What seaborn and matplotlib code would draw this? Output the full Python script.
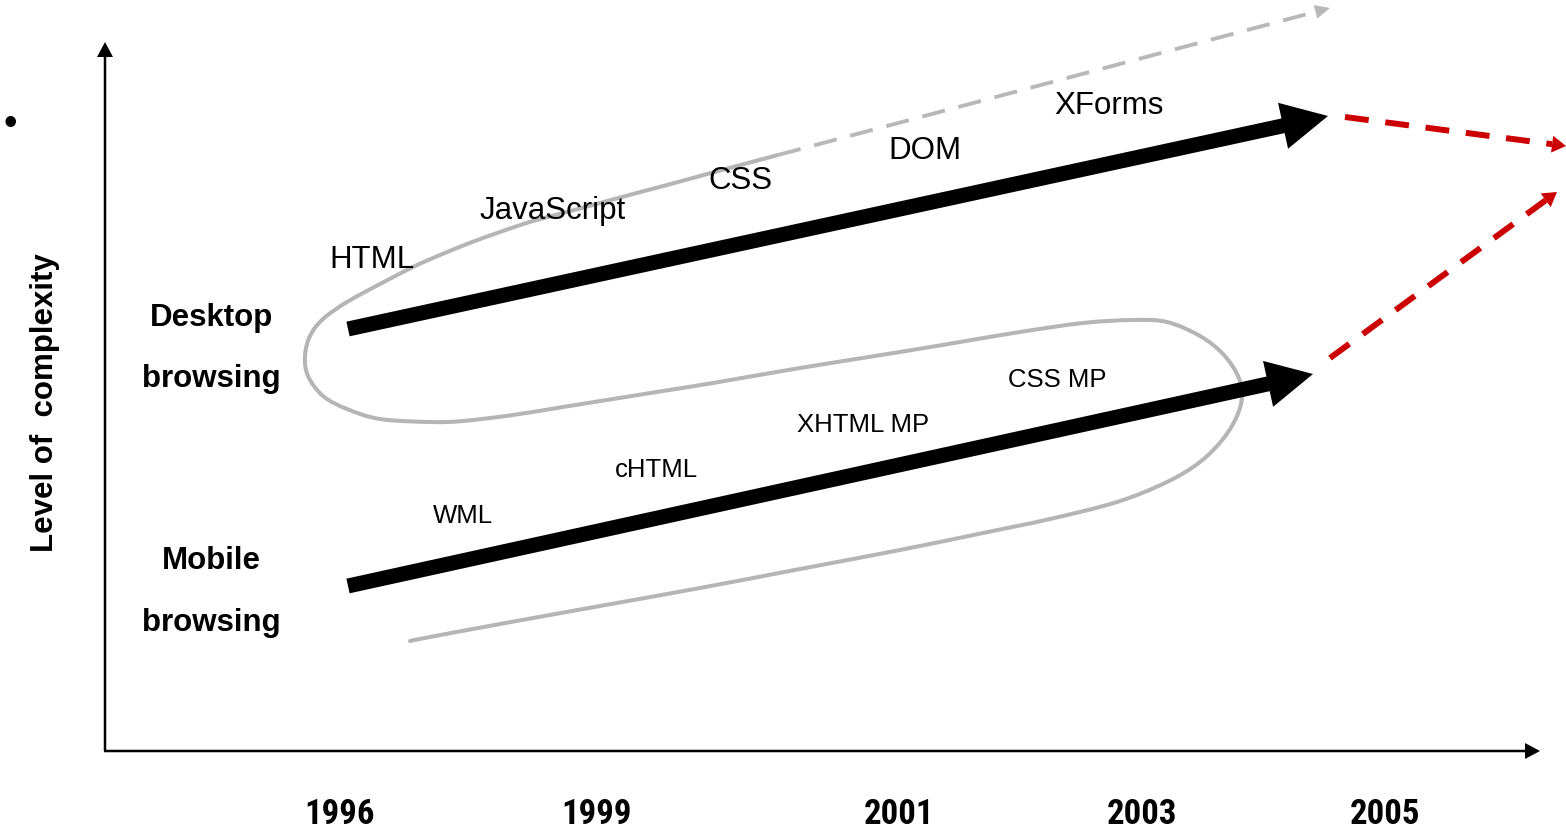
import numpy as np
import pandas as pd
import matplotlib
matplotlib.use("Agg")
import matplotlib.pyplot as plt
from matplotlib.patches import FancyArrow, PathPatch
from matplotlib.path import Path
from matplotlib import font_manager as fm
import seaborn as sns

# ---------------- data (pixel space of the diagram) ----------------
years = ["1996", "1999", "2001", "2003", "2005"]
year_x = [340, 597, 899, 1142, 1385]

desktop_labels = ["HTML", "JavaScript", "CSS", "DOM", "XForms"]
desktop_label_x = [372, 553, 740, 925, 1109]
desktop_label_y = [268, 219, 189, 159, 114]

mobile_labels = ["WML", "cHTML", "XHTML MP", "CSS MP"]
mobile_label_x = [463, 656, 863, 1057]
mobile_label_y = [523, 477, 432, 387]

group_labels = ["Desktop", "browsing", "Mobile", "browsing"]
group_label_x = [211, 211, 211, 211]
group_label_y = [326, 387, 569, 631]

# thick trend arrows: tail -> tip
desktop_arrow = [(348, 330), (1328, 117)]
mobile_arrow = [(348, 587), (1313, 375)]

# gray dashed extension, red dashed futures
gray_dash = [(778, 156), (1330, 9)]
red_dash_top = [(1345, 118), (1566, 147)]
red_dash_low = [(1330, 359), (1557, 193)]

# gray S-shaped curve (points read along the stroke)
curve_x = [778, 733, 700, 667, 633, 600, 567, 533, 500, 467, 433, 413, 380, 347, 323, 310,
           305, 308, 323, 347, 380, 430, 463, 513, 563, 613, 663, 713, 800, 900, 960,
           1020, 1083, 1133, 1167, 1200, 1223, 1238, 1242, 1237, 1223, 1200, 1167, 1117,
           1050, 983, 900, 800, 700, 600, 500, 430, 410]
curve_y = [156, 168, 177, 186, 195, 204, 213, 222, 233, 245, 259, 268, 285, 303, 320, 337,
           357, 377, 397, 410, 420, 423, 422, 416, 408, 400, 392, 384, 369, 353, 343,
           333, 324, 321, 323, 337, 355, 377, 397, 417, 440, 463, 483, 503,
           520, 534, 551, 570, 589, 607, 625, 638, 642]

W, H = 1566, 829

# ---------------- figure ----------------
sns.set_theme(style="white")
plt.rcParams["font.family"] = ["Liberation Sans", "DejaVu Sans"]

# pick a condensed bold face for the year labels if one is installed
names = {f.name for f in fm.fontManager.ttflist}
year_family = ["Liberation Sans"]
for cand in ["Liberation Sans Narrow", "Arial Narrow", "Roboto Condensed", "Open Sans Condensed"]:
    if cand in names:
        year_family = [cand, "Liberation Sans"]
        break

fig = plt.figure(figsize=(W / 100, H / 100), dpi=100)
ax = fig.add_axes([0, 0, 1, 1])

# gray curve: smooth cubic path through the read points (Catmull-Rom -> Bezier)
P = np.column_stack([curve_x, curve_y]).astype(float)
verts = [tuple(P[0])]
codes = [Path.MOVETO]
n = len(P)
for i in range(n - 1):
    p0 = P[max(i - 1, 0)]
    p1 = P[i]
    p2 = P[i + 1]
    p3 = P[min(i + 2, n - 1)]
    c1 = p1 + (p2 - p0) / 6.0
    c2 = p2 - (p3 - p1) / 6.0
    verts += [tuple(c1), tuple(c2), tuple(p2)]
    codes += [Path.CURVE4] * 3
ax.add_patch(PathPatch(Path(verts, codes), facecolor="none", edgecolor="#b5b5b5",
                       lw=2.9, capstyle="round", joinstyle="round"))

ax.set_xlim(0, W)
ax.set_ylim(H, 0)
ax.axis("off")

# axes with arrowheads
ax.add_patch(FancyArrow(105, 752, 0, 43 - 752, width=2.5, head_width=16, head_length=15,
                        length_includes_head=True, color="black", lw=0))
ax.add_patch(FancyArrow(104, 752, 1540 - 104, 0, width=2.5, head_width=16, head_length=15,
                        length_includes_head=True, color="black", lw=0))


def dashed_arrow(seg, color, lw, dash, head_len, head_w):
    (x0, y0), (x1, y1) = seg
    d = np.array([x1 - x0, y1 - y0], float)
    u = d / np.hypot(*d)
    xe, ye = x1 - u[0] * head_len, y1 - u[1] * head_len
    df = pd.DataFrame({"x": [x0, xe], "y": [y0, ye]})
    sns.lineplot(data=df, x="x", y="y", sort=False, estimator=None, ax=ax, color=color,
                 lw=lw, linestyle=(0, dash), dash_capstyle="butt")
    ax.add_patch(FancyArrow(xe, ye, u[0] * head_len, u[1] * head_len, width=0.1,
                            head_width=head_w, head_length=head_len,
                            length_includes_head=True, color=color, lw=0))


dashed_arrow(gray_dash, "#b8b8b8", 2.8, (6.0, 3.6), 15, 14)
dashed_arrow(red_dash_top, "#cc0000", 4.3, (4.0, 2.8), 14, 17)
dashed_arrow(red_dash_low, "#cc0000", 4.3, (4.0, 2.8), 14, 17)

ax.set_xlim(0, W)
ax.set_ylim(H, 0)
ax.axis("off")

# thick black arrows
for (x0, y0), (x1, y1) in [desktop_arrow, mobile_arrow]:
    ax.add_patch(FancyArrow(x0, y0, x1 - x0, y1 - y0, width=15, head_width=47,
                            head_length=46, length_includes_head=True, color="black", lw=0))

# labels
for t, x, y in zip(desktop_labels, desktop_label_x, desktop_label_y):
    ax.text(x, y, t, ha="center", va="baseline", fontsize=22.5, color="black")
for t, x, y in zip(mobile_labels, mobile_label_x, mobile_label_y):
    ax.text(x, y, t, ha="center", va="baseline", fontsize=18.5, color="black")
for t, x, y in zip(group_labels, group_label_x, group_label_y):
    ax.text(x, y, t, ha="center", va="baseline", fontsize=22.5, fontweight="bold", color="black")

for t, x in zip(years, year_x):
    ax.text(x, 824, t, ha="center", va="baseline", fontsize=25, fontweight="bold",
            family=year_family, color="black")

ax.text(45, 403, "Level of  complexity", rotation=90, ha="center", va="center",
        fontsize=22.5, fontweight="bold", color="black")
ax.text(10, 125, "•", ha="center", va="center", fontsize=28, color="black")

fig.savefig("out.png", dpi=100, facecolor="white")
